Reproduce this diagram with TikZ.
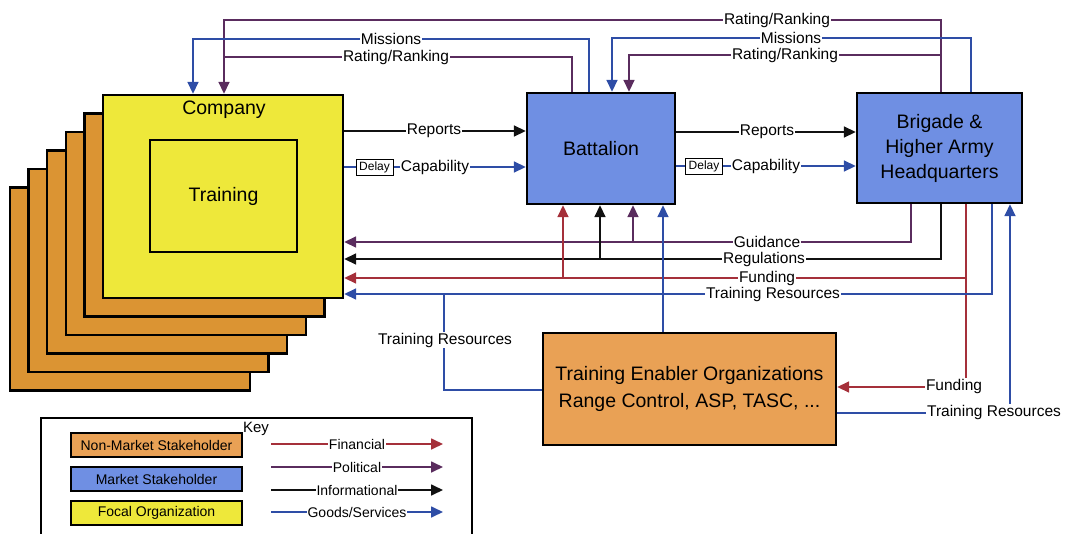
\documentclass[tikz,border=0pt]{standalone}
\usepackage{fontspec}
\setmainfont{Liberation Sans}
\usetikzlibrary{arrows.meta,calc}
\definecolor{yellowc}{HTML}{EEE83A}
\definecolor{stackc}{HTML}{DB9433}
\definecolor{teoc}{HTML}{E9A155}
\definecolor{bluec}{HTML}{6F8FE3}
\definecolor{finc}{HTML}{A5303A}
\definecolor{polc}{HTML}{5A2C5E}
\definecolor{infoc}{HTML}{111111}
\definecolor{goodc}{HTML}{2E4DA6}
\newcommand\bigfnt{\fontsize{19.5}{25}\selectfont}
\newcommand\tefnt{\fontsize{19.5}{27}\selectfont}
\newcommand\lblfnt{\fontsize{15.5}{17}\selectfont}
\newcommand\keyfnt{\fontsize{14}{16}\selectfont}
\newcommand\dlyfnt{\fontsize{12}{13}\selectfont}
\begin{document}
\begin{tikzpicture}[x=1pt,y=-1pt,
  box/.style={draw=black,line width=2.4pt,inner sep=0pt},
  con/.style={line width=1.7pt},
  arr/.style={-{Triangle[length=12pt,width=11pt]}},
  fin/.style={con,color=finc},
  pol/.style={con,color=polc},
  info/.style={con,color=infoc},
  good/.style={con,color=goodc},
  lbl/.style={fill=white,inner sep=1pt,font=\lblfnt,text=black},
  klbl/.style={fill=white,inner sep=1pt,font=\keyfnt,text=black},
  dly/.style={draw=black,line width=1pt,fill=white,font=\dlyfnt,inner sep=1.5pt,minimum width=37pt,minimum height=16pt},
  lgbox/.style={draw=black,line width=2.2pt,inner sep=0pt,minimum width=171pt,minimum height=24pt,font=\keyfnt}]
\useasboundingbox (0,0) rectangle (1065,533);
\clip (0,0) rectangle (1065,533);

% stacked company boxes
\foreach \k in {5,4,3,2,1}{
  \node[box,fill=stackc,minimum width=240pt,minimum height=203pt] (stack\k) at (223-18.6*\k,196.5+18.5*\k) {};
}
\node[box,fill=yellowc,minimum width=240pt,minimum height=203pt] (company) at (223,196.5) {};
\node[font=\bigfnt] (companylbl) at (224,110) {Company};
\node[box,line width=2pt,minimum width=147pt,minimum height=112pt,font=\bigfnt] (training) at (223.5,196) {Training};

\node[box,fill=bluec,minimum width=148pt,minimum height=111pt,font=\bigfnt] (bn) at (601,148.5) {Battalion};
\node[box,fill=bluec,minimum width=165pt,minimum height=110pt,font=\bigfnt,align=center] (brig) at (939.5,148) {Brigade \&\\Higher Army\\Headquarters};
\node[box,fill=teoc,minimum width=293pt,minimum height=112pt,font=\tefnt,align=center] (teo) at (689.5,389) {Training Enabler Organizations\\Range Control, ASP, TASC, ...};

% helper coordinates
\coordinate (yR1) at (0,20);
\coordinate (yM1) at (0,39);
\coordinate (yR2) at (0,57);
\coordinate (yM2) at (0,38);
\coordinate (yR3) at (0,55);
\coordinate (xCm) at (193,0);
\coordinate (xCr) at (224,0);
\coordinate (xBr) at (572,0);
\coordinate (xBm) at (589,0);
\coordinate (xBmi) at (612,0);
\coordinate (xBri) at (629,0);
\coordinate (xHr) at (941,0);
\coordinate (xHm) at (971,0);
\coordinate (yRep1) at (0,131);
\coordinate (yCap1) at (0,167);
\coordinate (yRep2) at (0,132);
\coordinate (yCap2) at (0,166);
\coordinate (yG) at (0,242);
\coordinate (yRg) at (0,259);
\coordinate (yF) at (0,278);
\coordinate (yT) at (0,294);
\coordinate (xHg) at (911,0);
\coordinate (xHrg) at (941,0);
\coordinate (xHf) at (966,0);
\coordinate (xHt) at (992,0);
\coordinate (xHt2) at (1010,0);
\coordinate (xBf) at (563,0);
\coordinate (xBrg) at (600,0);
\coordinate (xBg) at (633,0);
\coordinate (xBt) at (663,0);
\coordinate (xTl) at (444,0);
\coordinate (yTl) at (0,390);
\coordinate (yTf) at (0,387);
\coordinate (yTr) at (0,413);

% top connectors
\draw[pol,arr] (brig.north -| xHr) -- (xHr |- yR1) -- (xCr |- yR1) -- (company.north -| xCr);
\draw[pol] (bn.north -| xBr) -- (xBr |- yR2) -- (xCr |- yR2);
\draw[good,arr] (bn.north -| xBm) -- (xBm |- yM1) -- (xCm |- yM1) -- (company.north -| xCm);
\draw[good,arr] (brig.north -| xHm) -- (xHm |- yM2) -- (xBmi |- yM2) -- (bn.north -| xBmi);
\draw[pol,arr] (xHr |- yR3) -- (xBri |- yR3) -- (bn.north -| xBri);

% middle connectors
\draw[info,arr] (company.east |- yRep1) -- (bn.west |- yRep1);
\draw[good,arr] (company.east |- yCap1) -- (bn.west |- yCap1);
\draw[info,arr] (bn.east |- yRep2) -- (brig.west |- yRep2);
\draw[good,arr] (bn.east |- yCap2) -- (brig.west |- yCap2);

% bottom connectors
\draw[pol,arr] (brig.south -| xHg) -- (xHg |- yG) -- (company.east |- yG);
\draw[pol,arr] (xBg |- yG) -- (bn.south -| xBg);
\draw[info,arr] (brig.south -| xHrg) -- (xHrg |- yRg) -- (company.east |- yRg);
\draw[info,arr] (xBrg |- yRg) -- (bn.south -| xBrg);
\draw[fin,arr] (brig.south -| xHf) -- (xHf |- yF) -- (company.east |- yF);
\draw[fin,arr] (xBf |- yF) -- (bn.south -| xBf);
\draw[fin,arr] (xHf |- yF) -- (xHf |- yTf) -- (teo.east |- yTf);
\draw[good,arr] (brig.south -| xHt) -- (xHt |- yT) -- (company.east |- yT);
\draw[good] (teo.west |- yTl) -- (xTl |- yTl) -- (xTl |- yT);
\draw[good,arr] (teo.north -| xBt) -- (bn.south -| xBt);
\draw[good,arr] (teo.east |- yTr) -- (xHt2 |- yTr) -- (brig.south -| xHt2);

% labels
\node[lbl] (lR1) at (777,20) {Rating/Ranking};
\node[lbl] (lM1) at (391,39) {Missions};
\node[lbl] (lR2) at (396,57) {Rating/Ranking};
\node[lbl] (lM2) at (791,38) {Missions};
\node[lbl] (lR3) at (785,55) {Rating/Ranking};
\node[lbl] (lRep1) at (434,131) {Reports};
\node[lbl] (lCap1) at (435,167) {Capability};
\node[dly] (d1) at (374.5,167) {Delay};
\node[lbl] (lRep2) at (767,132) {Reports};
\node[lbl] (lCap2) at (766,166) {Capability};
\node[dly] (d2) at (704,166) {Delay};
\node[lbl] (lG) at (767,242) {Guidance};
\node[lbl] (lRg) at (764,259) {Regulations};
\node[lbl] (lF) at (767,278) {Funding};
\node[lbl] (lT) at (773,294) {Training Resources};
\node[lbl] (lTl) at (445,340) {Training Resources};
\node[lbl] (lTf) at (954,386) {Funding};
\node[lbl] (lTr) at (994,412) {Training Resources};

% key
\node[draw=black,line width=2.4pt,minimum width=431pt,minimum height=150pt,anchor=north west,inner sep=0pt] (key) at (40,417) {};
\node[font=\fontsize{15}{16}\selectfont] (keylbl) at (256,429) {Key};
\node[lgbox,fill=teoc] (lgnon) at (156.5,445) {Non-Market Stakeholder};
\node[lgbox,fill=bluec] (lgmkt) at (156.5,479) {Market Stakeholder};
\node[lgbox,fill=yellowc] (lgfoc) at (156.5,513) {Focal Organization};
\coordinate (kF1) at (271,444);
\coordinate (kF2) at (443,444);
\coordinate (kP1) at (271,467);
\coordinate (kP2) at (443,467);
\coordinate (kI1) at (271,490);
\coordinate (kI2) at (443,490);
\coordinate (kG1) at (271,512);
\coordinate (kG2) at (443,512);
\draw[fin,arr] (kF1) -- node[klbl] (kfl) {Financial} (kF2);
\draw[pol,arr] (kP1) -- node[klbl] (kpl) {Political} (kP2);
\draw[info,arr] (kI1) -- node[klbl] (kil) {Informational} (kI2);
\draw[good,arr] (kG1) -- node[klbl] (kgl) {Goods/Services} (kG2);
\end{tikzpicture}
\end{document}
